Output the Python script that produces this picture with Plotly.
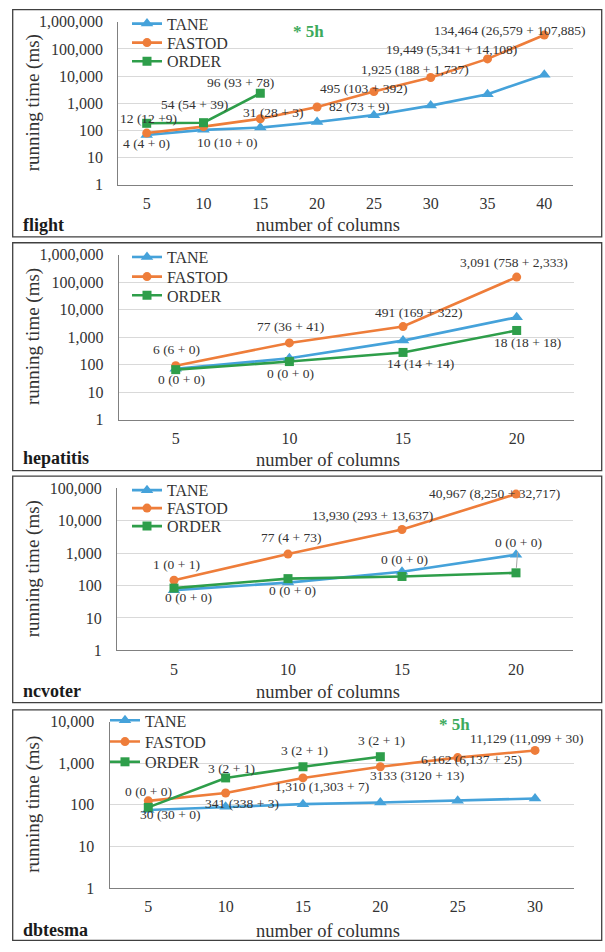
import math
import plotly.graph_objects as go

# ---------------- data ----------------
series_names = ["TANE", "FASTOD", "ORDER"]

flight_cols = ["5", "10", "15", "20", "25", "30", "35", "40"]
flight_tane = [68, 105, 127, 205, 365, 820, 2150, 11300]
flight_fastod = [80, 138, 270, 730, 2700, 8900, 43000, 325000]
flight_order = [183, 193, 2340]
flight_labels = [
    ("TANE", "5", "4 (4 + 0)"),
    ("ORDER", "5", "12 (12 +9)"),
    ("ORDER", "10", "54 (54 + 39)"),
    ("TANE", "10", "10 (10 + 0)"),
    ("FASTOD", "15", "31 (28 + 3)"),
    ("ORDER", "15", "96 (93 + 78)"),
    ("FASTOD", "20", "82 (73 + 9)"),
    ("FASTOD", "25", "495 (103 + 392)"),
    ("FASTOD", "30", "1,925 (188 + 1,737)"),
    ("FASTOD", "35", "19,449 (5,341 + 14,108)"),
    ("FASTOD", "40", "134,464 (26,579 + 107,885)"),
]

hep_cols = ["5", "10", "15", "20"]
hep_tane = [70, 168, 740, 5200]
hep_fastod = [90, 610, 2400, 151000]
hep_order = [65, 128, 275, 1730]
hep_labels = [
    ("FASTOD", "5", "6 (6 + 0)"),
    ("ORDER", "5", "0 (0 + 0)"),
    ("FASTOD", "10", "77 (36 + 41)"),
    ("ORDER", "10", "0 (0 + 0)"),
    ("FASTOD", "15", "491 (169 + 322)"),
    ("ORDER", "15", "14 (14 + 14)"),
    ("FASTOD", "20", "3,091 (758 + 2,333)"),
    ("ORDER", "20", "18 (18 + 18)"),
]

ncv_cols = ["5", "10", "15", "20"]
ncv_tane = [72, 123, 265, 890]
ncv_fastod = [145, 930, 5350, 66000]
ncv_order = [83, 163, 190, 246]
ncv_labels = [
    ("FASTOD", "5", "1 (0 + 1)"),
    ("TANE", "5", "0 (0 + 0)"),
    ("FASTOD", "10", "77 (4 + 73)"),
    ("TANE", "10", "0 (0 + 0)"),
    ("FASTOD", "15", "13,930 (293 + 13,637)"),
    ("TANE", "15", "0 (0 + 0)"),
    ("FASTOD", "20", "40,967 (8,250 + 32,717)"),
    ("ORDER", "20", "0 (0 + 0)"),
]

dbt_cols = ["5", "10", "15", "20", "25", "30"]
dbt_tane = [75, 90, 104, 114, 125, 142]
dbt_fastod = [125, 193, 445, 825, 1370, 2040]
dbt_order = [87, 445, 825, 1440]
dbt_labels = [
    ("FASTOD", "5", "0 (0 + 0)"),
    ("TANE", "5", "30 (30 + 0)"),
    ("ORDER", "10", "3 (2 + 1)"),
    ("FASTOD", "10", "341 (338 + 3)"),
    ("ORDER", "15", "3 (2 + 1)"),
    ("FASTOD", "15", "1,310 (1,303 + 7)"),
    ("ORDER", "20", "3 (2 + 1)"),
    ("FASTOD", "20", "3133 (3120 + 13)"),
    ("FASTOD", "25", "6,162 (6,137 + 25)"),
    ("FASTOD", "30", "11,129 (11,099 + 30)"),
]

panel_names = ["flight", "hepatitis", "ncvoter", "dbtesma"]
timeout_text = "* 5h"
x_title = "number of columns"
y_title = "running time (ms)"
y_tick_values = [1, 10, 100, 1000, 10000, 100000, 1000000]
y_tick_text = ["1", "10", "100", "1,000", "10,000", "100,000", "1,000,000"]

# ---------------- layout / style ----------------
W, H = 605, 952
FONT = "Liberation Serif"
TXT = "#333333"
COLORS = {"TANE": "#45A2DA", "FASTOD": "#EE7D3A", "ORDER": "#2E9E4A"}
SYMBOLS = {"TANE": "triangle-up", "FASTOD": "circle", "ORDER": "square"}
MSIZE = {"TANE": 11, "FASTOD": 9, "ORDER": 9}

panels = [
    dict(cols=flight_cols, data=dict(TANE=flight_tane, FASTOD=flight_fastod, ORDER=flight_order),
         labels=flight_labels, decades=6,
         plot=(118.3, 572.7, 14.0, 180.0), box=(12.7, 601.7, 1.7, 233.0),
         name_y=220.7, xt_y=221.0, legend_x=127, legend_y=[16.7, 36.0, 55.0],
         offsets=[(0, 9), (2, -5), (-9.5, -17.7), (23.5, 12.7), (12.7, -6.7), (-20, -10.7),
                  (41.4, 0), (-10, -3.3), (-16, -8.4), (-36, -9), (-34.3, -4.6)],
         timeout=("20", -9, 24.0)),
    dict(cols=hep_cols, data=dict(TANE=hep_tane, FASTOD=hep_fastod, ORDER=hep_order),
         labels=hep_labels, decades=6,
         plot=(118.9, 573.5, 251.0, 419.0), box=(12.7, 601.7, 239.0, 471.0),
         name_y=458.3, xt_y=460.0, legend_x=127, legend_y=[254.3, 274.3, 293.3],
         offsets=[(0.7, -16), (6, 10), (1.3, -16.7), (1.3, 11.7), (15.6, -14.3), (17.5, 11),
                  (-2.7, -15), (11.3, 11.7)],
         timeout=None),
    dict(cols=ncv_cols, data=dict(TANE=ncv_tane, FASTOD=ncv_fastod, ORDER=ncv_order),
         labels=ncv_labels, decades=5,
         plot=(117.0, 573.0, 489.0, 654.0), box=(12.7, 601.7, 476.7, 707.3),
         name_y=695.7, xt_y=696.7, legend_x=127, legend_y=[491.7, 510.0, 528.3],
         offsets=[(2.4, -16), (14, 7.3), (2.7, -17), (4.6, 7.7), (-30, -13.7), (2, -12.3),
                  (-21.7, -0.7), "leader"],
         timeout=None),
    dict(cols=dbt_cols, data=dict(TANE=dbt_tane, FASTOD=dbt_fastod, ORDER=dbt_order),
         labels=dbt_labels, decades=4,
         plot=(109.6, 573.7, 726.7, 896.0), box=(12.7, 601.7, 714.7, 949.3),
         name_y=938.3, xt_y=940.0, legend_x=105, legend_y=[726.0, 747.7, 768.3],
         offsets=[(0.7, -9), (22, 4.3), (5.8, -9), (16.4, 10.7), (1.1, -16), (18.8, 8.3),
                  (1.6, -16.3), (36.5, 9), (13.5, 1.7), (-8.8, -11.7)],
         timeout=("25", -3.5, 730.0)),
]

LEGEND_HALF = 18  # offset from one-item legend top to its item centre (px)

fig = go.Figure()
layout = dict(
    width=W, height=H, margin=dict(l=0, r=0, t=0, b=0),
    paper_bgcolor="white", plot_bgcolor="white",
    font=dict(family=FONT, color=TXT, size=16),
    showlegend=True,
)
annotations = []
shapes = []


def px_x(v):
    return v / W


def px_y(v):
    return 1 - v / H


legend_no = 0
for i, p in enumerate(panels, start=1):
    sfx = "" if i == 1 else str(i)
    xa, ya = "x" + sfx, "y" + sfx
    x0, x1, y0, y1 = p["plot"]
    for k, s in enumerate(series_names):
        legend_no += 1
        lg = "legend" if legend_no == 1 else "legend" + str(legend_no)
        vals = p["data"][s]
        fig.add_trace(go.Scatter(
            x=p["cols"][:len(vals)], y=vals, name=s, mode="lines+markers",
            xaxis=xa, yaxis=ya, legend=lg,
            line=dict(color=COLORS[s], width=2.6),
            marker=dict(symbol=SYMBOLS[s], size=MSIZE[s], color=COLORS[s]),
            cliponaxis=False,
        ))
        layout[lg] = dict(
            x=px_x(p["legend_x"]), y=px_y(p["legend_y"][k] - LEGEND_HALF),
            xanchor="left", yanchor="top", xref="paper", yref="paper",
            bgcolor="rgba(0,0,0,0)", borderwidth=0, itemwidth=30,
            font=dict(family=FONT, size=16, color=TXT),
            itemclick=False, itemdoubleclick=False,
        )
    layout["xaxis" + sfx] = dict(
        domain=[px_x(x0), px_x(x1)], anchor=ya, type="category",
        categoryorder="array", categoryarray=p["cols"],
        range=[-0.5, len(p["cols"]) - 0.5],
        showline=True, linecolor="#808080", linewidth=1.3, showgrid=False,
        ticks="", ticklabelstandoff=4, tickfont=dict(family=FONT, size=16, color=TXT),
        zeroline=False, fixedrange=True,
    )
    tv = y_tick_values[:p["decades"] + 1]
    tt = y_tick_text[:p["decades"] + 1]
    layout["yaxis" + sfx] = dict(
        domain=[px_y(y1), px_y(y0)], anchor=xa, type="log",
        range=[0, p["decades"]], tickvals=tv, ticktext=tt,
        showline=True, linecolor="#808080", linewidth=1.3,
        showgrid=True, gridcolor="#D9D9D9", gridwidth=1,
        ticks="", ticklabelstandoff=11, tickfont=dict(family=FONT, size=16, color=TXT),
        zeroline=False, fixedrange=True,
    )
    # panel border
    bx0, bx1, by0, by1 = p["box"]
    shapes.append(dict(type="rect", xref="paper", yref="paper",
                       x0=px_x(bx0), x1=px_x(bx1), y0=px_y(by1), y1=px_y(by0),
                       line=dict(color="#404040", width=1.3), fillcolor="rgba(0,0,0,0)"))
    # dataset name
    annotations.append(dict(text="<b>" + panel_names[i - 1] + "</b>", xref="paper", yref="paper",
                            x=px_x(21), y=px_y(p["name_y"]), xanchor="left", yanchor="middle",
                            showarrow=False, font=dict(family=FONT, size=18, color="#1a1a1a")))
    # axis titles
    annotations.append(dict(text=x_title, xref="paper", yref="paper",
                            x=px_x(328), y=px_y(p["xt_y"]), xanchor="center", yanchor="middle",
                            showarrow=False, font=dict(family=FONT, size=18.5, color=TXT)))
    annotations.append(dict(text=y_title, xref="paper", yref="paper", textangle=-90,
                            x=px_x(33), y=px_y((y0 + y1) / 2), xanchor="center", yanchor="middle",
                            showarrow=False, font=dict(family=FONT, size=19, color=TXT)))
    # data labels
    for (s, c, txt), off in zip(p["labels"], p["offsets"]):
        idx = p["cols"].index(c)
        val = p["data"][s][idx]
        if off == "leader":
            annotations.append(dict(text=txt, x=idx, y=math.log10(val), xref=xa, yref=ya,
                                    showarrow=True, arrowhead=0, arrowwidth=1, arrowcolor="#A6A6A6",
                                    ax=2.3, ay=-30, standoff=5,
                                    font=dict(family=FONT, size=13.5, color=TXT)))
        else:
            dx, dy = off
            annotations.append(dict(text=txt, x=idx, y=math.log10(val), xref=xa, yref=ya,
                                    xshift=dx, yshift=-dy, showarrow=False,
                                    xanchor="center", yanchor="middle",
                                    font=dict(family=FONT, size=13.5, color=TXT)))
    if p["timeout"]:
        c, dx, ty = p["timeout"]
        annotations.append(dict(text="<b>" + timeout_text + "</b>", x=p["cols"].index(c), xref=xa,
                                y=(y1 - ty) / (y1 - y0), yref=ya + " domain",
                                xshift=dx, showarrow=False, xanchor="center", yanchor="middle",
                                font=dict(family=FONT, size=17, color="#3DAA5C")))

layout["annotations"] = annotations
layout["shapes"] = shapes
fig.update_layout(**layout)
fig.write_html("out.html", config={"displayModeBar": False},
               post_script="document.body.style.margin='0';document.body.style.padding='0';")
